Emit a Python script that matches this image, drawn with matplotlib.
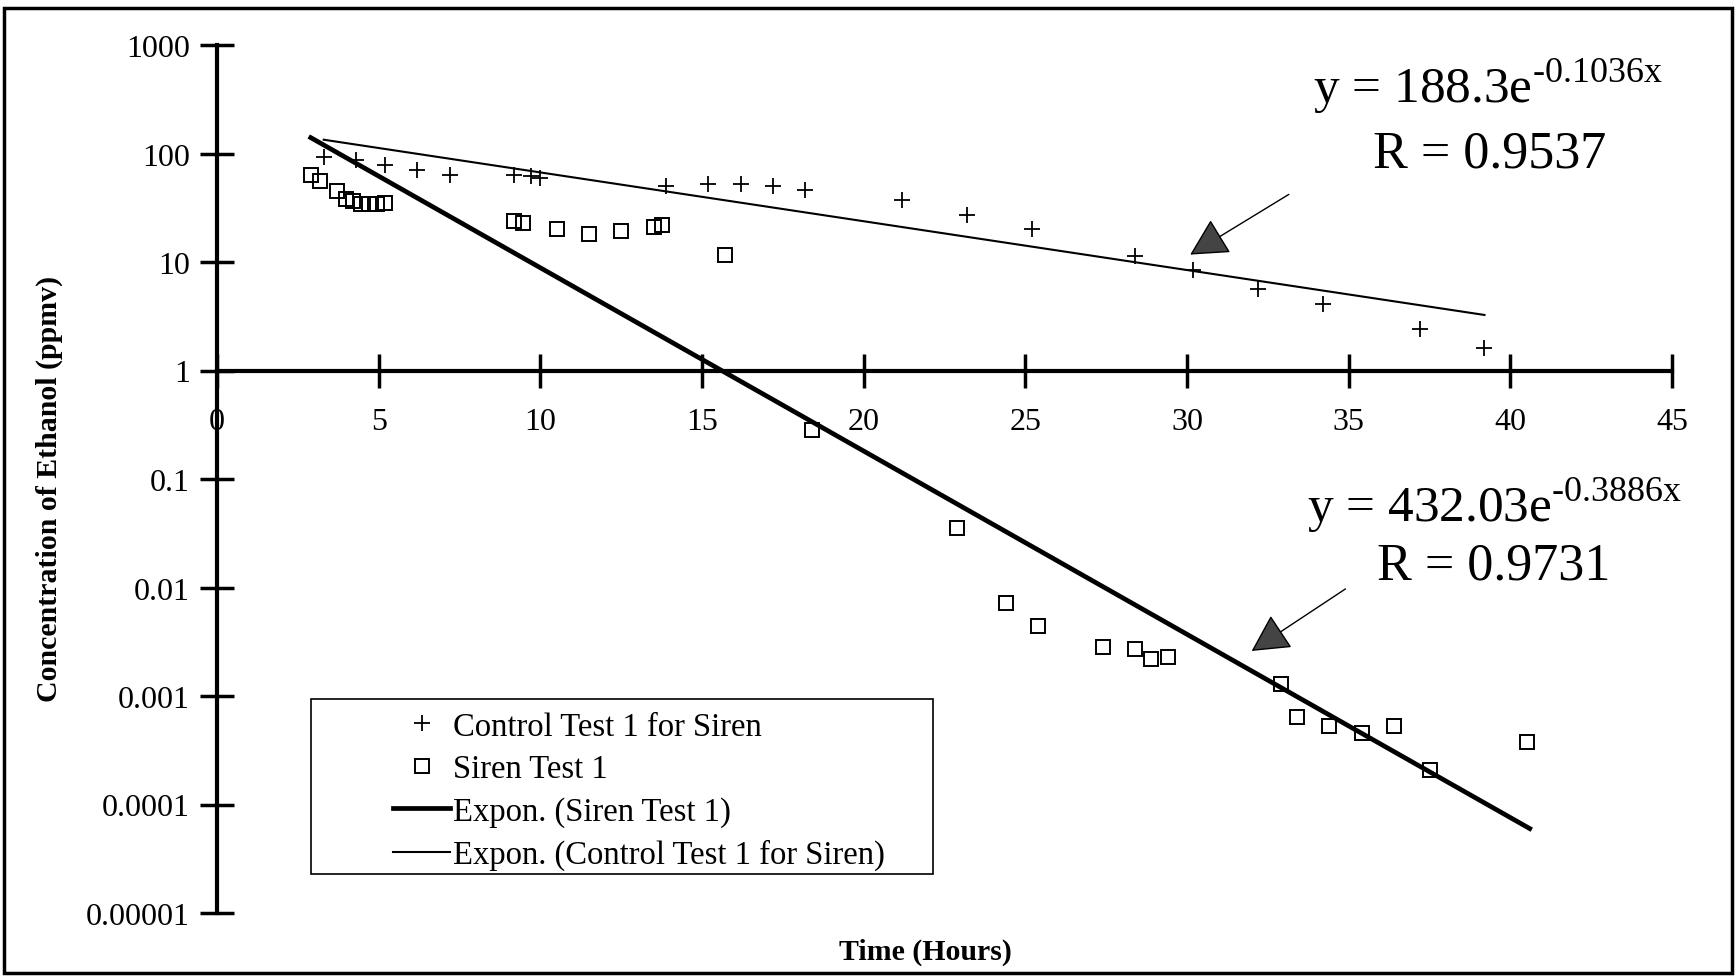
import matplotlib
matplotlib.use("Agg")
import matplotlib.pyplot as plt
from matplotlib.patches import Rectangle
from matplotlib.ticker import FixedLocator, FixedFormatter

plt.rcParams['font.family'] = ['Liberation Serif', 'DejaVu Serif']
plt.rcParams['mathtext.fontset'] = 'custom'
plt.rcParams['mathtext.rm'] = 'Liberation Serif'

# Control Test 1 for Siren (+)
control_x = [3.3, 4.3, 5.2, 6.2, 7.2, 9.2, 9.7, 10.0, 13.9, 15.2, 16.2, 17.2,
             18.2, 21.2, 23.2, 25.2, 28.4, 30.2, 32.2, 34.2, 37.2, 39.2]
control_y = [93, 87, 79, 70, 64, 63, 62, 60, 50, 52, 52, 50,
             46, 37, 27, 20, 11.3, 8.5, 5.6, 4.1, 2.4, 1.6]

# Siren Test 1 (squares)
siren_x = [2.9, 3.2, 3.7, 4.0, 4.2, 4.45, 4.7, 4.95, 5.2, 9.2, 9.45, 10.5,
           11.5, 12.5, 13.5, 13.75, 15.7, 18.4, 22.9, 24.4, 25.4, 27.4, 28.4,
           28.9, 29.4, 32.9, 33.4, 34.4, 35.4, 36.4, 37.5, 40.5]
siren_y = [63, 56, 45, 38, 36.5, 34, 34, 34, 35, 24, 23, 20,
           18, 19.4, 21, 22, 11.5, 0.285, 0.035, 0.0072, 0.0044, 0.0028, 0.0027,
           0.0022, 0.0023, 0.0013, 0.00064, 0.00053, 0.00046, 0.00053, 0.00021, 0.00038]

# trendline end points (straight on a log axis)
siren_fit_x = [2.9, 40.6]
siren_fit_y = [140, 6.0e-5]
control_fit_x = [3.3, 39.2]
control_fit_y = [134, 3.25]

x_ticks = [0, 5, 10, 15, 20, 25, 30, 35, 40, 45]
y_ticks = [1e-5, 1e-4, 1e-3, 1e-2, 1e-1, 1, 10, 100, 1000]
y_tick_labels = ['0.00001', '0.0001', '0.001', '0.01', '0.1', '1', '10', '100', '1000']

labels = ['Control Test 1 for Siren', 'Siren Test 1',
          'Expon. (Siren Test 1)', 'Expon. (Control Test 1 for Siren)']

# arrow tips / tails (data coords)
arrow_tips = [(30.1, 11.7), (32.0, 0.0026)]
arrow_tails = [(33.15, 42), (34.9, 0.0097)]

W, H = 1736, 978
fig = plt.figure(figsize=(W / 100, H / 100), dpi=100)
ax = fig.add_axes([217 / W, 1 - 914 / H, (1672 - 217) / W, (914 - 46) / H])

ax.plot(control_x, control_y, linestyle='none', marker='+', ms=11, mew=1.3,
        color='black', label=labels[0])
ax.plot(siren_x, siren_y, linestyle='none', marker='s', ms=10.5, mew=1.4,
        mfc='none', mec='black', label=labels[1])
ax.plot(siren_fit_x, siren_fit_y, color='black', lw=3.4, label=labels[2])
ax.plot(control_fit_x, control_fit_y, color='black', lw=1.5, label=labels[3])

ax.set_yscale('log')
ax.set_xlim(0, 45)
ax.set_ylim(1e-5, 1000)

for s in ['top', 'right']:
    ax.spines[s].set_visible(False)
ax.spines['bottom'].set_position(('data', 1))
ax.spines['bottom'].set_linewidth(3)
ax.spines['left'].set_linewidth(3)

ax.xaxis.set_major_locator(FixedLocator(x_ticks))
ax.xaxis.set_major_formatter(FixedFormatter([str(t) for t in x_ticks]))
ax.yaxis.set_major_locator(FixedLocator(y_ticks))
ax.yaxis.set_major_formatter(FixedFormatter(y_tick_labels))
ax.yaxis.set_minor_locator(FixedLocator([]))
ax.tick_params(axis='both', which='major', direction='inout', length=25,
               width=2.5, labelsize=23)
ax.tick_params(axis='x', pad=14)
ax.tick_params(axis='y', pad=7)

# axis titles
fig.text(925 / W, 1 - 952 / H, 'Time (Hours)', ha='center', va='center',
         fontsize=21.5, fontweight='bold')
fig.text(49 / W, 1 - 489 / H, 'Concentration of Ethanol (ppmv)', ha='center',
         va='center', rotation=90, fontsize=21.5, fontweight='bold')

# trendline equations
fig.text(1313 / W, 1 - 103 / H, 'y = 188.3e$^{\\mathregular{\u20100.1036x}}$',
         ha='left', va='baseline', fontsize=37)
fig.text(1373 / W, 1 - 168 / H, 'R = 0.9537', ha='left', va='baseline', fontsize=37.5)
fig.text(1307 / W, 1 - 522 / H, 'y = 432.03e$^{\\mathregular{\u20100.3886x}}$',
         ha='left', va='baseline', fontsize=37)
fig.text(1377 / W, 1 - 580 / H, 'R = 0.9731', ha='left', va='baseline', fontsize=37.5)

for tip, tail in zip(arrow_tips, arrow_tails):
    ax.annotate('', xy=tip, xytext=tail,
                arrowprops=dict(arrowstyle='-|>,head_length=0.85,head_width=0.45',
                                mutation_scale=28, lw=1.0, color='black',
                                fc='#444444', shrinkA=0, shrinkB=0))

# legend
leg = ax.legend(loc='upper left', bbox_to_anchor=(393 / W, 1 - 712 / H),
                bbox_transform=fig.transFigure, frameon=False, fontsize=23.5,
                borderpad=0, borderaxespad=0, handlelength=1.75,
                handletextpad=0.1, labelspacing=0.37)
fig.patches.append(Rectangle((311 / W, 1 - 875 / H), (933 - 311) / W, (875 - 700) / H,
                             transform=fig.transFigure, fill=False,
                             edgecolor='black', lw=1.2))

# outer frame
fig.patches.append(Rectangle((4 / W, 1 - 974 / H), (1732 - 4) / W, (974 - 9) / H,
                             transform=fig.transFigure, fill=False,
                             edgecolor='black', lw=2.5))

fig.savefig('out.png', dpi=100)
